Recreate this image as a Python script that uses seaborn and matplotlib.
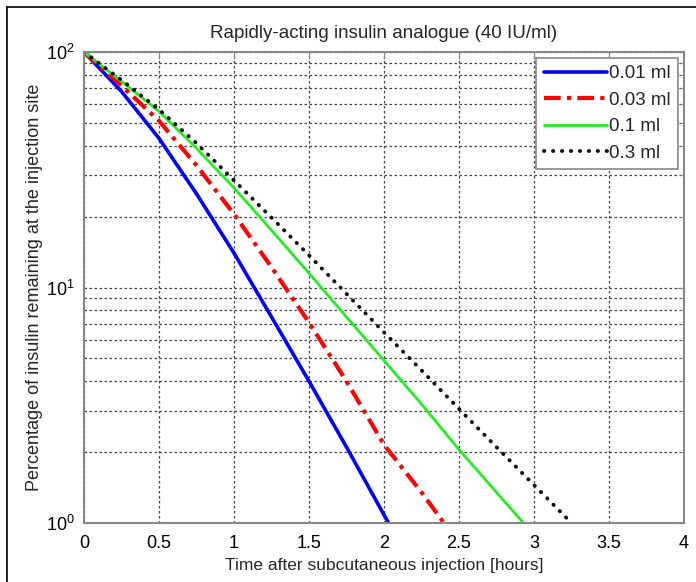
import numpy as np
import pandas as pd
import seaborn as sns
import matplotlib.pyplot as plt
from matplotlib.lines import Line2D
from matplotlib.ticker import LogLocator, NullFormatter

# Values (percentage remaining vs time in hours)
t_001 = [0, 0.25, 0.5, 0.75, 1.0, 1.25, 1.5, 1.75, 2.03]
y_001 = [100, 68, 43, 25, 14, 7.5, 4.0, 2.1, 1.0]

t_003 = [0, 0.25, 0.5, 0.75, 1.0, 1.25, 1.5, 1.75, 2.0, 2.25, 2.4]
y_003 = [100, 72, 51, 33, 20.5, 12.2, 7.1, 4.0, 2.15, 1.35, 1.0]

t_01 = [0, 0.25, 0.5, 0.75, 1.0, 1.25, 1.5, 1.75, 2.0, 2.25, 2.5, 2.75, 2.93]
y_01 = [100, 75, 56, 39, 26.5, 17.5, 11.5, 7.5, 4.9, 3.2, 2.05, 1.35, 1.0]

t_03 = [0, 0.25, 0.5, 0.75, 1.0, 1.25, 1.5, 1.75, 2.0, 2.25, 2.5, 2.75, 3.0, 3.25]
y_03 = [100, 76, 57, 41, 28.5, 19.8, 13.7, 9.4, 6.45, 4.45, 3.05, 2.1, 1.45, 1.0]

labels = ["0.01 ml", "0.03 ml", "0.1 ml", "0.3 ml"]

sns.set_style("white")
plt.rcParams['font.family'] = ['Liberation Sans', 'DejaVu Sans']

fig = plt.figure(figsize=(6.96, 5.82), dpi=100)
ax = fig.add_axes([84 / 696, 1 - 523 / 582, (684 - 84) / 696, (523 - 52) / 582])

styles = [
    dict(color="#0000ff", linestyle="-", linewidth=2.6),
    dict(color="#ff0000", linestyle=(0, (4, 1.5, 1, 1.5)), linewidth=3.0),
    dict(color="#22ee22", linestyle="-", linewidth=2.0),
    dict(color="#111111", linestyle=(0, (0.1, 2.2)), linewidth=2.8, dash_capstyle="round"),
]
series = [(t_001, y_001), (t_003, y_003), (t_01, y_01), (t_03, y_03)]

for (tx, ty), lab, st in zip(series, labels, styles):
    df = pd.DataFrame({"t": tx, "y": ty})
    sns.lineplot(data=df, x="t", y="y", ax=ax, label=lab, **st)

ax.set_yscale("log")
ax.set_xlim(0, 4)
ax.set_ylim(1, 100)
ax.set_xticks(np.arange(0, 4.01, 0.5))
ax.set_xticklabels(["0", "0.5", "1", "1.5", "2", "2.5", "3", "3.5", "4"])
ax.yaxis.set_major_locator(LogLocator(base=10))
ax.yaxis.set_minor_locator(LogLocator(base=10, subs=np.arange(2, 10)))
ax.yaxis.set_minor_formatter(NullFormatter())

ax.grid(True, which="major", axis="both", color="#444444", linestyle=(0, (2, 2)), linewidth=0.9)
ax.grid(True, which="minor", axis="y", color="#444444", linestyle=(0, (2, 2)), linewidth=0.9)

ax.tick_params(axis="both", which="both", direction="in", top=True, right=True,
               labelsize=13, colors="#888888", labelcolor="black")
ax.tick_params(axis="x", which="major", length=5, pad=9)
ax.tick_params(axis="y", which="major", length=5, pad=7)
ax.tick_params(axis="y", which="minor", length=3)
for sp in ax.spines.values():
    sp.set_color("#888888")
    sp.set_linewidth(1.5)

ax.set_title("Rapidly-acting insulin analogue (40 IU/ml)", fontsize=13.5, pad=10)
ax.set_xlabel("Time after subcutaneous injection [hours]", fontsize=12.5, labelpad=4)
ax.set_ylabel("Percentage of insulin remaining at the injection site", fontsize=13, labelpad=2)

leg = ax.legend(loc="upper right", fontsize=13.5, handlelength=3.4, handletextpad=0.1,
                borderaxespad=0.3, labelspacing=0.5, fancybox=False, framealpha=1)
leg.get_frame().set_edgecolor("#888888")
leg.get_frame().set_linewidth(1.2)

# partial border of the original figure (top and left)
fig.add_artist(Line2D([7 / 696, 1], [1 - 7 / 582, 1 - 7 / 582], color="black", linewidth=1.2,
                      transform=fig.transFigure))
fig.add_artist(Line2D([7 / 696, 7 / 696], [0, 1 - 7 / 582], color="black", linewidth=1.2,
                      transform=fig.transFigure))

plt.savefig("out.png", dpi=100)
